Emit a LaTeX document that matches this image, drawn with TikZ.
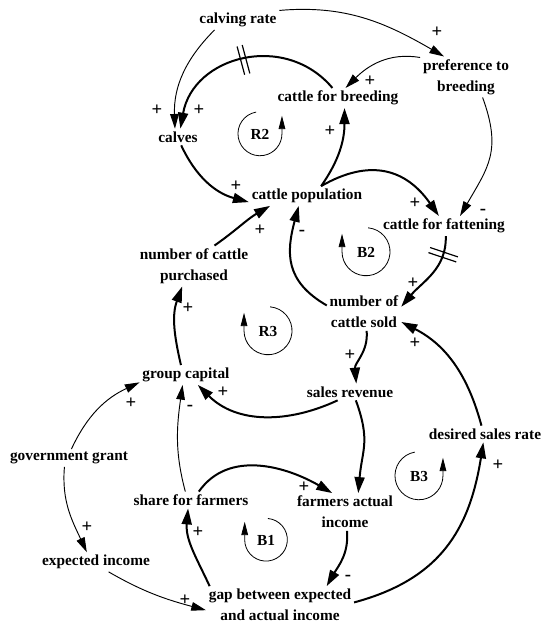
\documentclass[tikz,border=0pt]{standalone}
\usepackage{fontspec}
\setmainfont{Liberation Serif}
\usetikzlibrary{arrows.meta}
\usetikzlibrary{decorations.markings}

\begin{document}
\begin{tikzpicture}[x=0.75pt,y=0.75pt,
  every node/.style={font=\bfseries\fontsize{11.5}{15.75}\selectfont,inner sep=2pt},
  var/.style={align=center},
  sgn/.style={inner sep=0pt,font=\bfseries\fontsize{14}{14}\selectfont},
  lp/.style={circle,minimum size=#1,inner sep=0pt},
  mainlink/.style={line width=1.5pt,-{Triangle[length=12pt,width=7.5pt]}},
  sidelink/.style={line width=0.7pt,-{Triangle[length=11pt,width=6.5pt]}},
  loopline/.style={line width=0.6pt,-{Triangle[length=10pt,width=5pt]}},
  delaymark/.style={postaction={decorate},decoration={markings,
    mark=at position #1 with {\draw[-,line width=0.9pt] (-2pt,-11pt) -- (-2pt,11pt) (2pt,-11pt) -- (2pt,11pt);}}}]
  \useasboundingbox (0,0) rectangle (543,-625);

  % variables
  \node[var] (rate) at (238,-20) {calving rate};
  \node[var] (pref) at (466,-77) {preference to\\breeding};
  \node[var] (breed) at (338,-98) {cattle for breeding};
  \node[var] (calves) at (178,-137) {calves};
  \node[var] (pop) at (307,-196) {cattle population};
  \node[var] (fatten) at (444,-226) {cattle for fattening};
  \node[var] (purch) at (194,-266) {number of cattle\\purchased};
  \node[var] (sold) at (364,-312) {number of\\cattle sold};
  \node[var] (capital) at (186,-375) {group capital};
  \node[var] (revenue) at (350,-392) {sales revenue};
  \node[var] (desired) at (485,-434) {desired sales rate};
  \node[var] (grant) at (69,-458) {government grant};
  \node[var] (share) at (191,-500) {share for farmers};
  \node[var] (actual) at (345,-512) {farmers actual\\income};
  \node[var] (expinc) at (96,-562) {expected income};
  \node[var] (gap) at (280,-605) {gap between expected\\and actual income};

  % loops
  \node[lp=33pt] (R2) at (260,-134) {R2};
  \node[lp=36pt] (B2) at (366,-252) {B2};
  \node[lp=36pt] (R3) at (268,-331) {R3};
  \node[lp=32pt] (B1) at (266,-540) {B1};
  \node[lp=36pt] (B3) at (419,-476) {B3};
  \draw[loopline] (R2.100) arc[start angle=100,end angle=360,radius=16.5pt] -- ++(0,18);
  \draw[loopline] (B2.85) arc[start angle=85,end angle=-180,radius=18pt] -- ++(0,18);
  \draw[loopline] (R3.85) arc[start angle=85,end angle=-180,radius=18pt] -- ++(0,18);
  \draw[loopline] (B1.85) arc[start angle=85,end angle=-180,radius=16pt] -- ++(0,18);
  \draw[loopline] (B3.100) arc[start angle=100,end angle=360,radius=18pt] -- ++(0,18);

  % links
  \draw[mainlink,delaymark=0.5] (breed.119) to[out=130,in=80,looseness=1.2] (calves.74);
  \draw[sidelink] (rate.203) to[out=225,in=92] (calves.110);
  \draw[sidelink] (rate.13) to[out=5,in=150] (pref.137);
  \draw[sidelink] (pref.157) to[out=170,in=45] (breed.53);
  \draw[sidelink] (pref.-51) to[out=-70,in=60,looseness=1.2] (fatten.32);
  \draw[mainlink] (calves.-69) to[out=-65,in=165] (pop.186);
  \draw[mainlink] (purch.45) to[out=35,in=210] (pop.195);
  \draw[mainlink] (pop.35) to[out=55,in=-90] (breed.-57);
  \draw[mainlink] (pop.35) to[out=30,in=125,looseness=1.2] (fatten.117);
  \draw[mainlink,delaymark=0.22] (fatten.-80) to[out=-88,in=50] (sold.8);
  \draw[mainlink] (sold.170) to[out=150,in=255,looseness=1.2] (pop.230);
  \draw[mainlink] (sold.-82) to[out=-85,in=95] (revenue.53);
  \draw[mainlink] (capital.117) to[out=103,in=250] (purch.240);
  \draw[mainlink] (revenue.214) to[out=205,in=-45] (capital.-40);
  \draw[mainlink] (revenue.-55) to[out=-70,in=85,looseness=1.2] (actual.55);
  \draw[mainlink] (share.47) to[out=55,in=150] (actual.124);
  \draw[sidelink] (share.124) to[out=105,in=262] (capital.251);
  \draw[sidelink] (grant.75) to[out=65,in=205] (capital.189);
  \draw[sidelink] (grant.243) to[out=265,in=115] (expinc.133);
  \draw[sidelink] (expinc.-38) to[out=-30,in=165] (gap.184);
  \draw[mainlink] (actual.-84) to[out=-85,in=60] (gap.22);
  \draw[mainlink] (gap.165) to[out=115,in=265] (share.251);
  \draw[mainlink] (gap.2) to[out=15,in=261,looseness=1.1] (desired.259);
  \draw[mainlink] (desired.113) to[out=105,in=-27] (sold.-15);

  % polarities
  \node[sgn] (s1) at (157,-110) {+};
  \node[sgn] (s2) at (199,-110) {+};
  \node[sgn] (s3) at (437,-32) {+};
  \node[sgn] (s4) at (370,-81) {+};
  \node[sgn] (s5) at (483,-212) {-};
  \node[sgn] (s6) at (236,-186) {+};
  \node[sgn] (s7) at (260,-230) {+};
  \node[sgn] (s8) at (330,-131) {+};
  \node[sgn] (s9) at (415,-203) {+};
  \node[sgn] (s10) at (413,-283) {+};
  \node[sgn] (s11) at (302,-233) {-};
  \node[sgn] (s12) at (350,-355) {+};
  \node[sgn] (s13) at (188,-308) {+};
  \node[sgn] (s14) at (223,-392) {+};
  \node[sgn] (s15) at (304,-487) {+};
  \node[sgn] (s16) at (190,-408) {-};
  \node[sgn] (s17) at (131,-403) {+};
  \node[sgn] (s18) at (87,-527) {+};
  \node[sgn] (s19) at (185,-600) {+};
  \node[sgn] (s20) at (348,-578) {-};
  \node[sgn] (s21) at (198,-532) {+};
  \node[sgn] (s22) at (498,-465) {+};
  \node[sgn] (s23) at (415,-343) {+};
\end{tikzpicture}
\end{document}
